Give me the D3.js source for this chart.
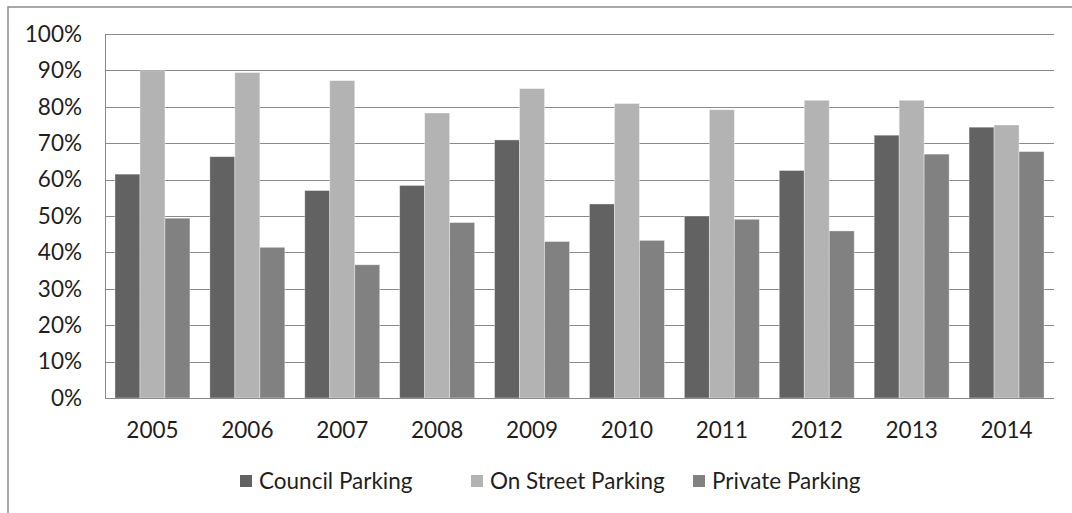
<!DOCTYPE html>
<html>
<head>
<meta charset="utf-8">
<script src="https://cdn.jsdelivr.net/npm/d3@7"></script>
<style>
  html, body { margin: 0; padding: 0; background: #fff; }
  svg { display: block; }
  text { font-family: Lato, "Open Sans", sans-serif; fill: #1f1f1f; }
</style>
</head>
<body>
<svg id="chart" width="1072" height="513"></svg>
<script>
// Occupancy by year for three parking types
const years = ["2005", "2006", "2007", "2008", "2009", "2010", "2011", "2012", "2013", "2014"];
const councilParking  = [61.5, 66.3, 57.0, 58.4, 70.9, 53.3, 50.0, 62.5, 72.2, 74.4];
const onStreetParking = [89.9, 89.4, 87.2, 78.3, 85.0, 80.9, 79.2, 81.8, 81.8, 75.0];
const privateParking  = [49.4, 41.4, 36.6, 48.2, 43.0, 43.3, 49.1, 45.9, 67.0, 67.7];
const seriesNames = ["Council Parking", "On Street Parking", "Private Parking"];
const seriesColors = ["#626262", "#b3b3b3", "#818181"];
const yTicks = [0, 10, 20, 30, 40, 50, 60, 70, 80, 90, 100];

const seriesValues = [councilParking, onStreetParking, privateParking];
const fontSize = 22.5;

const svg = d3.select("#chart");
const plot = { left: 105, right: 1054, top: 34, bottom: 398 };

// outer chart frame
svg.append("rect")
  .attr("x", 8).attr("y", 7)
  .attr("width", 1100).attr("height", 600)
  .attr("fill", "#fff")
  .attr("stroke", "#8c8c8c")
  .attr("stroke-width", 1.5);

const x0 = d3.scaleBand().domain(years).range([plot.left, plot.right]).paddingInner(0.21).paddingOuter(0.105);
const x1 = d3.scaleBand().domain(d3.range(seriesNames.length)).range([0, x0.bandwidth()]);
const y = d3.scaleLinear().domain([0, 100]).range([plot.bottom, plot.top]);

// horizontal gridlines
svg.append("g").selectAll("line").data(yTicks).join("line")
  .attr("x1", plot.left).attr("x2", plot.right)
  .attr("y1", d => Math.round(y(d)) + 0.5).attr("y2", d => Math.round(y(d)) + 0.5)
  .attr("stroke", "#8a8a8a").attr("stroke-width", 1);

// left axis line
svg.append("line")
  .attr("x1", plot.left + 0.5).attr("x2", plot.left + 0.5)
  .attr("y1", plot.top).attr("y2", plot.bottom)
  .attr("stroke", "#8a8a8a");

// bars
const groups = svg.append("g").selectAll("g").data(years).join("g")
  .attr("transform", d => `translate(${x0(d)},0)`);
groups.selectAll("rect")
  .data((d, i) => seriesValues.map((vals, s) => ({ s, v: vals[i] })))
  .join("rect")
  .attr("x", d => x1(d.s))
  .attr("width", x1.bandwidth())
  .attr("y", d => y(d.v))
  .attr("height", d => y(0) - y(d.v))
  .attr("fill", d => seriesColors[d.s])
  .attr("stroke", "rgba(255,255,255,0.45)")
  .attr("stroke-width", 0.8);

// bottom axis line on top of bars
svg.append("line")
  .attr("x1", plot.left).attr("x2", plot.right)
  .attr("y1", plot.bottom + 0.5).attr("y2", plot.bottom + 0.5)
  .attr("stroke", "#8a8a8a");

// y tick labels
svg.append("g").selectAll("text").data(yTicks).join("text")
  .attr("x", 82).attr("y", d => y(d))
  .attr("dy", "0.35em")
  .attr("text-anchor", "end")
  .attr("font-size", fontSize)
  .text(d => d + "%");

// x tick labels
svg.append("g").selectAll("text").data(years).join("text")
  .attr("x", d => x0(d) + x0.bandwidth() / 2)
  .attr("y", 438)
  .attr("text-anchor", "middle")
  .attr("font-size", fontSize)
  .text(d => d);

// legend
const legendX = [240, 471, 693];
const legend = svg.append("g").selectAll("g").data(seriesNames).join("g")
  .attr("transform", (d, i) => `translate(${legendX[i]},481)`);
legend.append("rect")
  .attr("x", 0).attr("y", -6).attr("width", 12).attr("height", 12)
  .attr("fill", (d, i) => seriesColors[i]);
legend.append("text")
  .attr("x", 19).attr("y", 0).attr("dy", "0.35em")
  .attr("font-size", fontSize)
  .text(d => d);
</script>
</body>
</html>
